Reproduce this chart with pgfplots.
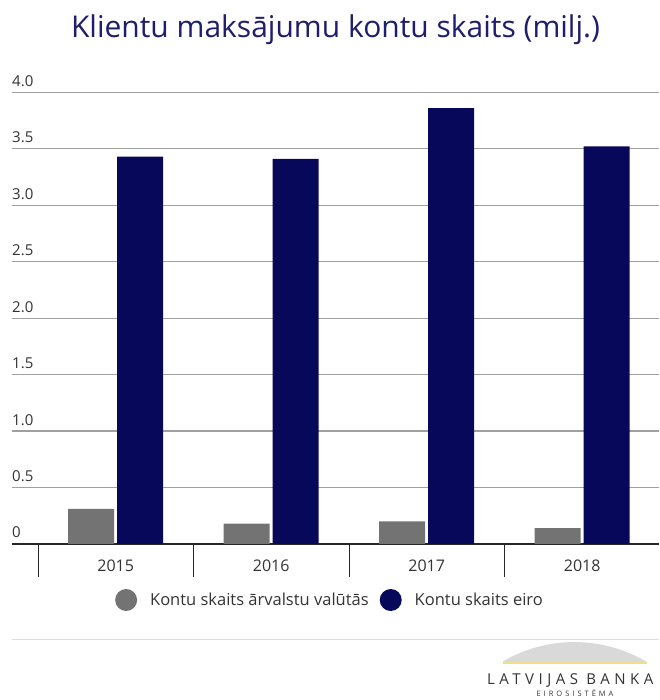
\documentclass[border=0pt]{standalone}
\usepackage{pgfplots}
\pgfplotsset{compat=1.18}
\usepackage{fontspec}
\setmainfont{Open Sans}
\definecolor{navybar}{HTML}{08085A}
\definecolor{graybar}{HTML}{737373}
\definecolor{gridgray}{HTML}{A0A0A0}
\definecolor{textgray}{HTML}{333333}
\definecolor{titlenavy}{HTML}{1E1E6C}
\definecolor{rulegray}{HTML}{DDDDDD}
\definecolor{logogray}{HTML}{D9D9D9}
\definecolor{logoyellow}{HTML}{F2DD8C}
\begin{document}
\begin{tikzpicture}[x=1pt,y=1pt]
\path[use as bounding box] (0,0) rectangle (659,700);
\begin{axis}[
  at={(12pt,156pt)}, anchor=south west,
  scale only axis, width=647pt, height=451.7pt,
  xmin=-0.667, xmax=3.494, ymin=0, ymax=4,
  ybar=3pt, bar width=46pt,
  axis x line*=bottom, axis y line*=left,
  x axis line style={draw=black!85, line width=1.5pt},
  y axis line style={draw=none},
  xtick={0,1,2,3}, xticklabels={2015,2016,2017,2018},
  xtick style={draw=none},
  extra x ticks={-0.5,0.5,1.5,2.5},
  extra x tick labels={},
  extra x tick style={xtick style={draw=black!85, line width=0.8pt}, major tick length=33pt, tick align=outside},
  ytick={0,0.5,1,1.5,2,2.5,3,3.5,4},
  yticklabels={0,0.5,1.0,1.5,2.0,2.5,3.0,3.5,4.0},
  ytick style={draw=none},
  ymajorgrids, grid style={draw=gridgray, line width=1.2pt},
  yticklabel style={anchor=base west, inner sep=0pt, yshift=6pt, font=\fontsize{15}{18}\selectfont, text=textgray},
  xticklabel style={anchor=base, inner sep=0pt, yshift=-23pt, font=\fontsize{16}{19}\selectfont, text=textgray},
  legend style={at={(axis description cs:0.4915,-0.124)}, anchor=center, draw=none, fill=none,
    legend columns=2, font=\fontsize{16.5}{19}\selectfont, text=textgray,
    /tikz/every odd column/.append style={column sep=11pt},
    /tikz/every even column/.append style={column sep=9pt}},
]
\addplot[fill=graybar, draw=none, legend image code/.code={\fill[graybar] (0pt,0pt) circle (11pt);}]
  coordinates {(0,0.31) (1,0.18) (2,0.20) (3,0.14)};
\addlegendentry{Kontu skaits ārvalstu valūtās}
\addplot[fill=navybar, draw=none, legend image code/.code={\fill[navybar] (0pt,0pt) circle (11pt);}]
  coordinates {(0,3.43) (1,3.41) (2,3.86) (3,3.52)};
\addlegendentry{Kontu skaits eiro}
\end{axis}
\node[anchor=base, text=titlenavy, font=\fontsize{30}{36}\selectfont, inner sep=0pt] at (335.5,662) {Klientu maksājumu kontu skaits (milj.)};
\draw[rulegray, line width=1pt] (12,60) -- (659,60);
\fill[logogray] (502,38) arc[start angle=120.8, end angle=59.2, radius=141.4] -- cycle;
\draw[logoyellow, line width=1.5pt] (503,37) -- (647,37);
\node[anchor=base west, inner sep=0pt, text=textgray, font=\fontsize{15}{17}\selectfont\addfontfeature{LetterSpace=30}] at (487,15) {LATVIJAS BANKA};
\node[anchor=north, inner sep=0pt, text=textgray, font=\fontsize{7.5}{9}\selectfont\addfontfeature{LetterSpace=40}] at (575,10) {EIROSISTĒMA};
\end{tikzpicture}
\end{document}
